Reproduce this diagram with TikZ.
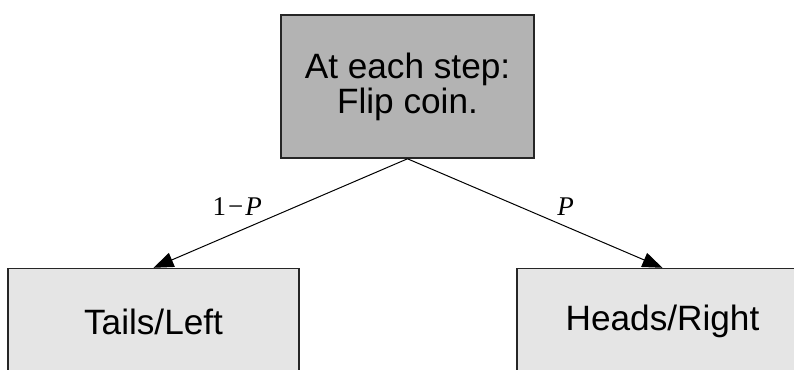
\documentclass[tikz,border=0pt]{standalone}
\usepackage{fontspec}
\setmainfont{Liberation Sans}
\newfontfamily\probfont{Liberation Serif}
\definecolor{coinGray}{RGB}{179, 179, 179}
\definecolor{leafGray}{RGB}{229, 229, 229}
\usepackage{tikz}
\usetikzlibrary{positioning, arrows.meta}

\begin{document}
\begin{tikzpicture}[
    x=1pt, y=1pt,
    box/.style={rectangle, draw=black!85, line width=0.8pt, align=center,
                font=\fontsize{17.6}{16}\selectfont},
    coinbox/.style={box, fill=coinGray, minimum width=126.5pt,
                minimum height=71.5pt},
    leafbox/.style={box, fill=leafGray, minimum width=145.5pt,
                minimum height=53pt},
    arrow/.style={-{Triangle[length=10pt, width=7.5pt]}, line width=0.5pt},
    prob/.style={font=\probfont\fontsize{13.5}{15}\selectfont},
  ]
    \useasboundingbox (0,0) rectangle (397,185);

    \node[coinbox] (coin) at (203.75,141.75) {At each step:\\Flip coin.};
    \node[leafbox, below=54.5pt of coin, xshift=-127pt] (tails) {Tails/Left};
    \node[leafbox, below=54.5pt of coin, xshift=127.5pt] (heads) {Heads/Right};

    \draw[arrow] (coin.south) -- node[prob, pos=0.67, above=4.5pt]
         {1\kern1pt−\kern1pt\textit{P}} (tails.north);
    \draw[arrow] (coin.south) -- node[prob, pos=0.62, above=2pt]
         {\textit{P}} (heads.north);
  \end{tikzpicture}
\end{document}
